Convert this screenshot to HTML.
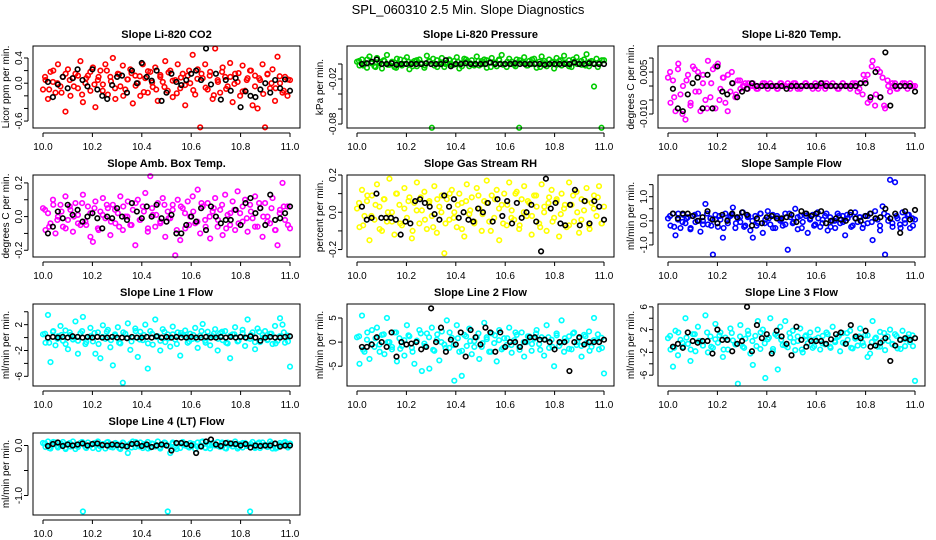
<!DOCTYPE html>
<html><head><meta charset="utf-8">
<style>
html,body{margin:0;padding:0;background:#fff;}
svg{display:block;font-family:"Liberation Sans",sans-serif;}
</style></head>
<body>
<svg id="chart" width="936" height="540" viewBox="0 0 936 540" xmlns="http://www.w3.org/2000/svg">
<rect width="936" height="540" fill="#fff"/>
<text x="468" y="14" text-anchor="middle" font-size="13">SPL_060310  2.5 Min. Slope Diagnostics</text>
</svg>
<script>
const xTicks=[10.0,10.2,10.4,10.6,10.8,11.0];
const co2=[-0.1,0.05,-0.25,0.18,0.02,-0.15,0.3,-0.05,0.1,-0.45,0.22,-0.2,0.08,0.15,-0.08,0.35,-0.3,0.0,0.12,-0.12,0.25,-0.38,0.05,0.2,-0.02,0.3,-0.18,0.1,0.4,-0.25,0.15,-0.05,0.28,-0.1,0.06,0.22,-0.32,0.12,0.0,-0.2,0.3,0.08,-0.15,0.18,-0.06,0.25,-0.28,0.1,0.02,0.35,-0.12,0.2,-0.22,0.05,0.3,-0.08,0.15,-0.35,0.12,0.0,0.45,-0.18,0.22,-0.7,0.08,0.3,-0.1,0.18,-0.25,0.55,0.05,-0.15,0.25,0.1,-0.05,0.32,-0.3,0.15,0.02,-0.2,0.28,-0.12,0.08,0.2,-0.35,0.12,-0.4,0.05,0.3,-0.7,0.15,-0.08,0.22,-0.28,0.42,0.0,-0.15,0.1,-0.2,0.05];
const co2Core=[0.1,-0.1,0.2,0.0,-0.15,0.15,0.05,-0.05,0.12,-0.18,0.08,0.18,-0.02,0.1,-0.12,0.2,0.03,-0.08,0.14,-0.2,0.06,0.16,-0.04,0.11,-0.14,0.19,0.01,-0.1,0.13,-0.06,0.17,0.04,-0.16,0.09,-0.03,0.2,-0.11,0.07,0.15,-0.07,0.12,-0.19,0.02,0.18,-0.09,0.1,-0.01,0.16,-0.13,0.05,0.2,-0.05,0.08,-0.17,0.14,0.0,-0.08,0.11,-0.12,0.06];
const co2Black=[0.02,-0.22,-0.02,0.1,-0.08,0.08,0.22,0.05,-0.05,0.22,-0.1,-0.2,-0.25,-0.03,0.1,0.12,-0.15,0.2,0.0,0.32,0.1,0.04,0.2,-0.28,-0.15,0.15,0.02,-0.03,0.05,0.15,0.2,0.05,0.55,-0.02,0.15,-0.26,0.05,-0.12,0.08,-0.38,-0.13,-0.2,-0.22,-0.1,0.0,-0.15,0.05,-0.08,0.06,-0.12];
const pres=[0.003,-0.002,0.006,0.0,-0.005,0.01,0.002,-0.003,0.008,0.001,-0.006,0.004,0.012,-0.001,0.003,-0.004,0.007,0.0,-0.002,0.005,0.009,-0.007,0.002,0.004,-0.003,0.006,0.001,-0.005,0.011,0.003,-0.085,-0.002,0.005,0.0,0.008,-0.004,0.002,0.006,-0.001,0.004,0.009,-0.006,0.001,0.007,0.003,-0.003,0.005,0.0,0.01,-0.002,0.004,0.006,-0.005,0.002,0.008,0.001,-0.003,0.005,0.012,0.0,-0.004,0.007,0.003,-0.001,0.006,-0.085,0.002,0.009,-0.002,0.004,0.0,0.007,-0.005,0.003,0.01,0.001,-0.003,0.006,0.002,-0.006,0.008,0.004,-0.002,0.011,0.0,0.005,-0.004,0.003,0.009,0.001,-0.001,0.006,0.013,-0.003,0.004,-0.03,0.007,0.002,-0.085,0.005];
const presCore=[0.004,-0.002,0.006,0.001,-0.004,0.003,0.005,-0.001,0.002,-0.005,0.006,0.0,0.003,-0.003,0.005,0.001,-0.002,0.004,0.007,-0.004,0.002,0.0,0.005,-0.001,0.003,-0.003,0.006,0.001,-0.002,0.004,0.0,0.005,-0.004,0.002,0.006,-0.001,0.003,0.0,-0.003,0.005,0.002,-0.002,0.006,0.001,-0.004,0.004,0.0,0.003,-0.001,0.005,0.002,-0.003,0.006,0.0,0.004,-0.002,0.003,0.001,-0.004,0.005];
const presBlack=[0.0,0.001,0.003,0.006,0.0,0.0,0.001,-0.001,0.0,0.0,0.0,0.0,0.0,0.001,0.0,0.0,0.0,0.005,-0.003,0.0,0.0,0.001,0.0,0.0,0.0,0.0,0.002,0.0,0.0,0.0,0.0,0.001,0.0,0.0,0.0,0.0,0.0,-0.001,0.0,0.0,0.0,0.0,0.0,0.002,0.0,0.0,0.001,0.0,0.0,0.0];
const temp=[0.003,-0.006,0.002,-0.009,0.006,-0.003,0.0,-0.012,0.004,-0.007,0.007,-0.002,0.005,-0.009,0.001,-0.005,0.009,-0.004,0.006,-0.008,0.008,-0.001,0.003,-0.006,0.004,-0.002,0.001,-0.004,0.002,-0.001,0.0,0.001,-0.001,0.0,0.001,0.0,-0.001,0.0,0.001,0.0,-0.001,0.001,0.0,0.0,-0.001,0.001,0.0,0.0,0.001,-0.001,0.0,0.001,0.0,-0.001,0.0,0.001,0.0,0.0,-0.001,0.001,0.0,0.0,0.001,-0.001,0.0,0.0,0.001,0.0,-0.001,0.0,0.001,0.0,0.0,-0.001,0.001,0.0,-0.002,0.001,-0.003,0.002,0.004,-0.005,0.009,-0.007,0.006,-0.004,0.003,-0.008,0.002,-0.002,0.0,0.001,-0.001,0.0,0.001,0.0,-0.001,0.001,0.0,0.0];
const tempCore=[0.005,-0.004,0.008,-0.01,0.002,-0.006,0.006,-0.002,0.004,-0.008,0.001,0.007,-0.005,0.003,-0.009,0.005,-0.003,0.002,0.0,0.001,0.0,-0.001,0.0,0.001,0.0,0.0,-0.001,0.001,0.0,0.0,0.001,-0.001,0.0,0.001,0.0,0.0,-0.001,0.0,0.001,0.0,0.0,-0.001,0.001,0.0,0.0,0.001,-0.001,0.004,-0.006,0.007,-0.003,0.005,-0.007,0.0,0.001,-0.001,0.0,0.001,0.0,0.0];
const tempBlack=[-0.001,-0.008,-0.009,-0.003,0.001,0.003,-0.008,0.004,-0.008,0.007,-0.002,-0.003,0.001,-0.004,-0.002,-0.001,0.001,0.0,0.0,0.0,0.0,0.0,0.0,-0.001,0.0,0.0,0.0,0.0,0.0,0.0,0.001,0.0,0.0,0.0,0.0,0.0,0.0,0.0,0.001,0.001,-0.004,0.005,-0.004,0.012,-0.007,0.0,0.0,0.0,0.0,-0.002];
const amb=[0.05,-0.08,0.02,-0.04,0.1,-0.1,0.0,0.07,-0.06,0.12,-0.02,0.04,-0.09,0.08,0.01,-0.05,0.13,-0.03,0.06,-0.12,-0.15,0.09,-0.07,0.03,0.11,-0.01,0.05,-0.11,0.07,-0.04,0.02,0.12,-0.08,0.0,0.09,-0.05,0.04,-0.17,0.1,-0.02,0.06,0.14,-0.09,0.24,0.01,-0.06,0.08,-0.03,0.11,-0.12,0.03,-0.01,0.07,-0.23,0.1,-0.14,0.05,-0.07,0.09,0.0,0.12,-0.04,0.16,-0.1,0.06,-0.02,0.08,-0.13,0.03,0.11,-0.06,0.04,-0.11,0.13,0.01,-0.05,0.09,-0.08,0.15,0.02,-0.03,0.1,-0.09,0.07,-0.01,0.12,-0.06,0.05,-0.12,0.08,0.0,-0.04,0.11,-0.08,-0.17,0.04,0.2,-0.02,0.06,-0.07];
const ambCore=[0.04,-0.06,0.07,-0.02,0.03,-0.07,0.06,0.0,-0.04,0.08,-0.05,0.02,0.05,-0.08,0.01,0.07,-0.03,0.04,-0.06,0.06,0.0,-0.05,0.08,-0.02,0.03,-0.07,0.05,0.01,-0.04,0.07,-0.01,0.04,-0.08,0.06,0.02,-0.05,0.03,-0.03,0.08,-0.06,0.0,0.05,-0.02,0.07,-0.07,0.02,0.04,-0.04,0.06,-0.01,0.03,-0.06,0.08,0.0,-0.03,0.05,-0.08,0.02,0.06,-0.05];
const ambBlack=[-0.1,-0.06,0.03,-0.01,0.07,0.01,0.04,-0.03,0.0,0.02,-0.01,-0.07,0.0,-0.01,0.05,0.0,-0.02,0.08,0.03,-0.01,0.06,0.0,0.07,-0.01,-0.03,0.01,-0.1,-0.1,-0.05,0.0,-0.03,0.05,-0.08,0.06,0.0,-0.04,-0.02,-0.02,0.04,-0.05,0.08,0.11,0.02,0.05,-0.05,0.13,-0.02,-0.01,0.02,0.06];
const rh=[0.02,-0.08,0.12,-0.02,0.06,-0.15,0.09,-0.04,0.15,0.03,-0.1,0.07,-0.05,0.18,0.0,-0.12,0.1,0.04,-0.07,0.13,-0.03,0.08,-0.14,0.05,0.16,-0.06,0.01,0.11,-0.09,0.06,-0.02,0.14,-0.11,0.03,0.09,-0.22,0.07,-0.04,0.12,0.0,-0.08,0.1,0.05,-0.13,0.15,-0.01,0.08,-0.06,0.13,0.02,-0.1,0.06,0.17,-0.05,0.09,-0.03,0.12,-0.15,0.04,0.1,-0.07,0.16,0.01,-0.04,0.11,-0.09,0.07,0.14,-0.02,0.05,-0.12,0.09,0.03,-0.06,0.15,0.0,-0.1,0.08,0.12,-0.03,0.06,-0.13,0.1,0.02,-0.08,0.16,0.04,-0.05,0.11,-0.11,0.07,0.01,0.13,-0.07,0.05,0.09,-0.02,0.14,-0.06,0.03];
const rhCore=[0.05,-0.07,0.09,-0.02,0.04,-0.09,0.07,0.0,-0.05,0.1,-0.06,0.02,0.06,-0.1,0.01,0.08,-0.04,0.05,-0.08,0.07,0.0,-0.06,0.1,-0.03,0.04,-0.09,0.06,0.01,-0.05,0.09,-0.01,0.05,-0.1,0.07,0.02,-0.06,0.04,-0.03,0.1,-0.07,0.0,0.06,-0.02,0.09,-0.08,0.03,0.05,-0.05,0.07,-0.01,0.04,-0.07,0.09,0.0,-0.04,0.06,-0.09,0.02,0.08,-0.06];
const rhBlack=[0.03,-0.04,-0.03,0.1,-0.03,-0.03,-0.03,-0.04,-0.12,-0.05,-0.06,0.06,0.07,0.05,0.03,-0.01,-0.04,0.09,0.03,0.07,-0.03,0.0,-0.04,-0.05,0.02,0.0,0.05,-0.05,0.07,-0.02,0.06,-0.06,0.05,-0.03,0.0,0.04,-0.05,-0.21,0.18,0.02,0.05,-0.06,-0.07,0.04,0.12,-0.07,0.06,-0.06,0.06,0.03,-0.04];
const samp=[0.1,-0.2,0.3,-0.6,0.05,-0.3,0.25,-0.1,0.15,-0.35,0.2,-0.05,0.3,-0.45,0.0,0.7,-0.15,0.1,-1.4,0.25,-0.25,0.05,-0.7,0.3,-0.1,0.2,0.55,-0.3,0.1,-0.05,0.35,-0.2,0.15,-0.4,-0.7,0.2,-0.1,0.3,-0.5,0.05,0.4,-0.15,0.25,-0.3,0.1,0.0,-0.2,0.3,-1.2,0.15,-0.1,0.5,-0.35,0.2,-0.05,0.3,-0.5,0.1,0.25,-0.15,0.35,-0.25,0.05,0.2,-0.4,0.15,0.0,-0.3,0.3,-0.1,0.2,-0.6,0.1,0.25,-0.2,0.35,-0.05,0.15,-0.3,0.2,-0.1,0.3,-0.8,0.4,0.05,-0.4,0.6,-1.4,0.2,1.7,-0.25,1.6,0.1,-0.15,0.35,-0.1,0.25,-0.3,0.1,0.05];
const sampCore=[0.2,-0.25,0.3,-0.05,0.1,-0.3,0.25,0.0,-0.15,0.3,-0.2,0.05,0.2,-0.3,0.05,0.25,-0.1,0.15,-0.25,0.2,0.0,-0.2,0.3,-0.1,0.1,-0.3,0.2,0.05,-0.15,0.3,-0.05,0.15,-0.3,0.2,0.05,-0.2,0.1,-0.1,0.3,-0.25,0.0,0.2,-0.05,0.25,-0.25,0.1,0.15,-0.15,0.2,-0.05,0.1,-0.2,0.3,0.0,-0.1,0.2,-0.3,0.05,0.25,-0.2];
const sampBlack=[0.3,0.1,0.3,0.3,0.2,0.0,0.15,0.4,0.05,-0.1,0.25,0.0,0.3,0.15,0.35,0.25,-0.2,0.1,-0.1,0.15,0.2,0.1,0.1,0.15,0.25,-0.05,0.4,0.3,0.2,0.3,0.4,-0.1,0.0,0.1,0.05,0.0,0.35,0.1,0.0,0.2,0.3,0.1,0.15,0.5,0.1,0.3,-0.5,0.4,0.05,0.45];
const line1=[0.5,-0.8,3.5,-3.8,0.9,-1.2,0.2,1.8,-0.5,1.1,-1.8,0.4,-0.3,2.5,-2.5,0.7,3.2,-1.0,0.1,1.5,-0.6,-2.5,0.8,-3.2,1.9,-0.2,1.2,-1.5,-4.3,0.3,1.6,-0.9,-7.0,0.6,2.2,-1.9,0.0,1.4,-3.0,0.9,-0.4,2.0,-4.8,1.0,-1.1,2.8,0.2,-2.0,1.3,-0.7,0.5,-1.4,1.7,-0.3,0.8,-2.8,0.4,1.1,-0.8,0.6,-0.2,1.5,-1.6,0.3,2.1,-0.5,0.9,-1.2,0.2,1.3,-2.0,0.7,-0.4,1.0,-0.9,-3.2,0.5,1.6,-0.6,0.1,1.2,-1.3,2.8,-0.2,0.8,-1.8,1.4,-0.7,0.4,1.0,-0.3,0.6,-1.0,1.8,-0.5,3.0,2.0,-0.8,0.3,-4.5];
const line1Core=[0.6,-0.8,1.0,-0.2,0.4,-1.0,0.8,0.0,-0.5,1.0,-0.7,0.2,0.7,-1.0,0.1,0.9,-0.4,0.5,-0.8,0.8,0.0,-0.6,1.0,-0.3,0.4,-0.9,0.6,0.1,-0.5,0.9,-0.1,0.5,-1.0,0.7,0.2,-0.6,0.4,-0.3,1.0,-0.8,0.0,0.6,-0.2,0.9,-0.8,0.3,0.5,-0.5,0.7,-0.1,0.4,-0.7,0.9,0.0,-0.4,0.6,-0.9,0.2,0.8,-0.6];
const line1Black=[0.0,0.1,0.0,0.1,0.0,0.2,0.1,0.0,0.1,0.0,0.1,0.0,0.0,0.1,0.0,0.0,-0.1,0.1,0.0,0.0,0.1,0.0,0.2,0.0,0.1,0.0,0.1,0.0,0.0,0.1,0.0,0.0,0.1,0.0,0.0,0.1,0.0,0.1,0.0,0.1,0.0,0.2,0.0,-0.5,0.0,0.1,0.0,0.0,0.1,0.2];
const line2=[1.0,-4.5,5.5,-2.0,0.5,-3.5,2.5,-1.0,3.0,-0.5,1.5,-2.5,5.0,0.0,-1.5,2.0,-4.0,0.8,-0.8,-2.8,3.5,1.2,-1.2,-4.5,0.3,2.5,-6.0,-0.3,1.8,-5.5,3.0,-1.8,0.5,-3.8,2.2,-0.5,4.5,-1.2,0.9,-8.0,3.5,-2.0,-7.0,1.5,-0.8,2.8,-2.5,0.2,1.0,-3.5,-1.0,4.0,0.6,-2.0,1.8,-0.2,-4.0,2.5,-1.5,0.8,-0.6,3.0,-2.2,0.4,1.5,-1.0,2.0,-3.0,0.0,1.2,-1.8,0.7,2.5,-0.4,1.0,-2.8,3.5,-1.2,0.5,-5.0,1.8,-0.8,4.5,-2.0,0.3,1.2,-1.5,2.0,-0.6,0.8,-3.0,1.5,-0.2,2.2,-1.0,5.0,0.4,-1.5,0.9,-6.5];
const line2Core=[1.2,-1.6,2.0,-0.4,0.8,-2.0,1.6,0.0,-1.0,2.0,-1.4,0.4,1.4,-2.0,0.2,1.8,-0.8,1.0,-1.6,1.6,0.0,-1.2,2.0,-0.6,0.8,-1.8,1.2,0.2,-1.0,1.8,-0.2,1.0,-2.0,1.4,0.4,-1.2,0.8,-0.6,2.0,-1.6,0.0,1.2,-0.4,1.8,-1.6,0.6,1.0,-1.0,1.4,-0.2,0.8,-1.4,1.8,0.0,-0.8,1.2,-1.8,0.4,1.6,-1.2];
const line2Black=[-1,-1,-0.5,1,0,-1,2,-3,0,-0.5,-0.3,0,-1.5,-1,7,0,3,-2,0.5,-0.5,2,-3,2.5,1,-0.5,3,2,-2,2,-1,0,0,-1,0,1,1,0.5,0.5,0,-1.5,0,0,-6,0,1,-0.5,0,0,0,0.5];
const line3=[0.5,-1.5,-4.5,1.8,-2.5,0.2,-1.0,4.0,-0.5,-3.5,1.2,-1.8,2.5,0.0,-0.8,4.5,-2.0,0.8,-1.2,3.0,-0.3,1.5,-2.8,0.6,-1.5,2.2,0.1,-0.6,-7.5,2.8,-1.0,0.4,1.8,-2.2,-4.2,0.9,3.5,-1.4,2.0,-6.5,0.3,4.0,-1.8,1.2,-5.0,2.5,-0.7,3.5,-1.1,0.6,1.8,-1.6,0.0,2.2,-2.0,0.8,-0.4,1.5,-1.2,0.3,2.0,-1.5,0.9,-0.6,1.2,-1.0,2.5,-0.2,0.7,-1.8,1.4,-0.5,0.2,1.8,-1.3,0.6,-0.8,2.2,-0.3,1.0,-2.8,-2.2,3.5,0.4,-1.0,1.6,0.0,-1.6,0.8,2.0,-0.5,1.2,-1.3,0.3,1.8,-0.9,0.6,-0.2,1.0,-7.0];
const line3Core=[0.9,-1.2,1.5,-0.3,0.6,-1.5,1.2,0.0,-0.8,1.5,-1.0,0.3,1.0,-1.5,0.2,1.4,-0.6,0.8,-1.2,1.2,0.0,-0.9,1.5,-0.4,0.6,-1.4,0.9,0.2,-0.8,1.4,-0.2,0.8,-1.5,1.0,0.3,-0.9,0.6,-0.4,1.5,-1.2,0.0,0.9,-0.3,1.4,-1.2,0.4,0.8,-0.8,1.0,-0.2,0.6,-1.0,1.4,0.0,-0.6,0.9,-1.4,0.3,1.2,-0.9];
const line3Black=[-1.0,-0.5,-1.2,1.5,0,-0.3,0,0,-2.2,2,0.2,0.2,-1.8,-0.5,0,6,-1.8,2.8,0.5,1.2,-2.2,1.8,0.8,-0.5,-2.5,2.5,0.2,-1.0,0,0,0,-0.5,0.3,1.2,1.5,-0.5,2.8,0.8,0.5,1.8,-1.0,-0.8,-0.3,0.5,-3.5,-0.8,0.2,0.5,0.2,0.5];
const line4=[0.05,-0.03,0.08,-0.06,0.02,0.06,-0.04,0.0,0.07,-0.05,0.03,-0.02,0.08,-0.07,0.01,0.05,-1.32,-0.03,0.06,0.0,-0.05,0.04,0.08,-0.02,0.03,-0.06,0.07,0.01,-0.04,0.05,0.02,-0.07,0.06,-0.01,-0.15,0.04,0.08,-0.03,0.0,0.06,-0.05,0.02,0.07,-0.04,0.03,-0.02,0.08,-0.06,0.01,0.05,-1.32,-0.15,0.06,-0.03,0.04,-0.05,0.07,0.0,-0.02,0.05,0.03,-0.07,0.06,-0.01,0.08,-0.04,0.02,-0.06,0.05,0.0,0.07,-0.03,0.04,-0.05,0.06,0.01,-0.02,0.08,-0.06,0.03,-0.04,0.05,0.0,-1.32,0.07,-0.03,0.04,-0.05,0.06,0.01,-0.02,0.08,-0.06,0.03,-0.04,0.05,0.0,0.07,-0.02,0.04];
const line4Core=[0.04,-0.05,0.07,-0.01,0.03,-0.07,0.05,0.0,-0.03,0.07,-0.05,0.01,0.05,-0.07,0.01,0.06,-0.03,0.04,-0.05,0.05,0.0,-0.04,0.07,-0.02,0.03,-0.06,0.04,0.01,-0.03,0.06,-0.01,0.03,-0.07,0.05,0.01,-0.04,0.03,-0.02,0.07,-0.05,0.0,0.04,-0.01,0.06,-0.06,0.02,0.03,-0.03,0.05,-0.01,0.03,-0.05,0.06,0.0,-0.03,0.04,-0.06,0.01,0.05,-0.04];
const line4Black=[-0.01,0.03,0.06,-0.01,0.02,0.0,0.02,0.04,0.0,0.03,0.04,0.01,0.0,0.02,0.01,0.0,-0.02,0.03,0.04,-0.01,0.02,-0.03,0.0,0.02,0.0,-0.1,0.05,0.05,0.03,0.0,-0.15,-0.02,0.08,0.12,0.02,-0.01,0.05,0.04,0.03,0.0,0.03,-0.04,0.0,-0.01,0.0,0.0,0.04,-0.02,0.0,0.0];
const panelTitles=["Slope Li-820 CO2","Slope Li-820 Pressure","Slope Li-820 Temp.","Slope Amb. Box Temp.","Slope Gas Stream RH","Slope Sample Flow","Slope Line 1 Flow","Slope Line 2 Flow","Slope Line 3 Flow","Slope Line 4 (LT) Flow"];
const yLabels=["Licor ppm per min.","kPa per min.","degrees C per min.","degrees C per min.","percent per min.","ml/min per min.","ml/min per min.","ml/min per min.","ml/min per min.","ml/min per min."];
const colors=["#ff0000","#00cc00","#ff00ff","#ff00ff","#ffff00","#0000ff","#00ffff","#00ffff","#00ffff","#00ffff"];
const series=[co2,pres,temp,amb,rh,samp,line1,line2,line3,line4];
const coreSeries=[co2Core,presCore,tempCore,ambCore,rhCore,sampCore,line1Core,line2Core,line3Core,line4Core];
const blackSeries=[co2Black,presBlack,tempBlack,ambBlack,rhBlack,sampBlack,line1Black,line2Black,line3Black,line4Black];
const yLims=[[-0.71,0.59],[-0.0853,0.024],[-0.015,0.0143],[-0.24,0.247],[-0.24,0.2],[-1.5,1.9],[-7.5,5.2],[-9.1,7.9],[-7.9,6.5],[-1.39,0.25]];
const yTicks=[[-0.6,-0.4,-0.2,0,0.2,0.4],[-0.08,-0.06,-0.04,-0.02,0],[-0.01,-0.005,0,0.005,0.01],[-0.2,-0.1,0,0.1,0.2],[-0.2,-0.1,0,0.1,0.2],[-1,-0.5,0,0.5,1,1.5],[-6,-4,-2,0,2,4],[-5,0,5],[-6,-4,-2,0,2,4,6],[-1,-0.5,0]];
const yTickLabels=[{"-0.6":"-0.6","0":"0.0","0.4":"0.4"},{"-0.08":"-0.08","-0.02":"-0.02"},{"-0.01":"-0.010","0.005":"0.005"},{"-0.2":"-0.2","0":"0.0","0.2":"0.2"},{"-0.2":"-0.2","0":"0.0","0.2":"0.2"},{"-1":"-1.0","0":"0.0","1":"1.0"},{"-6":"-6","-2":"-2","2":"2"},{"-5":"-5","0":"0","5":"5"},{"-6":"-6","-2":"-2","2":"2","6":"6"},{"-1":"-1.0","0":"0.0"}];
const svg=document.getElementById('chart');
const NS="http://www.w3.org/2000/svg";
const colLeft=[33,347,658],rowTop=[46,175,304,433],PW=267,PH=82;
function mk(tag,attrs,parent){const e=document.createElementNS(NS,tag);for(const k in attrs)e.setAttribute(k,attrs[k]);parent.appendChild(e);return e;}
series.forEach((vals,p)=>{
  const L=colLeft[p%3],T=rowTop[Math.floor(p/3)];
  const xs=v=>L+10+(v-10)*(PW-20);
  const [y0,y1]=yLims[p];
  const ys=v=>T+PH-(v-y0)/(y1-y0)*PH;
  const g=mk('g',{},svg);
  
  
  const t=mk('text',{x:L+PW/2,y:T-8,'text-anchor':'middle','font-size':11,'font-weight':'bold'},g);
  t.textContent=panelTitles[p];
  
  
  const yl=mk('text',{x:0,y:0,transform:`translate(${L-24},${T+PH/2}) rotate(-90)`,'text-anchor':'middle','font-size':10},g);
  yl.textContent=yLabels[p];
  
  
  const pts=mk('g',{},g);
  
  
  const n=vals.length;
  vals.forEach((v,i)=>{
    const c=mk('circle',{cx:xs(10+i/(n-1)),cy:ys(v),r:2.3,fill:'none',stroke:colors[p],'stroke-width':1.6},pts);
    
    
  });
  const cs=coreSeries[p],nc=cs.length;
  cs.forEach((v,i)=>{
    const c=mk('circle',{cx:xs(10+(i+0.5)/nc),cy:ys(v),r:2.3,fill:'none',stroke:colors[p],'stroke-width':1.6},pts);
    
    
  });
  const b=blackSeries[p],m=b.length;
  b.forEach((v,i)=>{
    const c=mk('circle',{cx:xs(10.02+i*0.98/(m-1)),cy:ys(v),r:2.3,fill:'none',stroke:'#000','stroke-width':1.6},pts);
    
    
  });
  const box=mk('rect',{x:L,y:T,width:PW,height:PH,fill:'none',stroke:'#000','stroke-width':1},g);
  
  
  mk('line',{x1:xs(10),x2:xs(11),y1:T+PH+5,y2:T+PH+5,stroke:'#000'},g);
  xTicks.forEach(v=>{
    mk('line',{x1:xs(v),x2:xs(v),y1:T+PH+5,y2:T+PH+9,stroke:'#000'},g);
    const tx=mk('text',{x:xs(v),y:T+PH+22,'text-anchor':'middle','font-size':10},g);
    tx.textContent=v.toFixed(1);
    
    
  });
  const yt=yTicks[p];
  mk('line',{x1:L-5,x2:L-5,y1:ys(yt[0]),y2:ys(yt[yt.length-1]),stroke:'#000'},g);
  yt.forEach(v=>{
    mk('line',{x1:L-9,x2:L-5,y1:ys(v),y2:ys(v),stroke:'#000'},g);
    const lab=yTickLabels[p][String(v)];
    if(lab){
      const ty=mk('text',{x:0,y:0,transform:`translate(${L-11},${ys(v)}) rotate(-90)`,'text-anchor':'middle','font-size':10},g);
      ty.textContent=lab;
      
      
    }
  });
});
</script>
</body></html>
